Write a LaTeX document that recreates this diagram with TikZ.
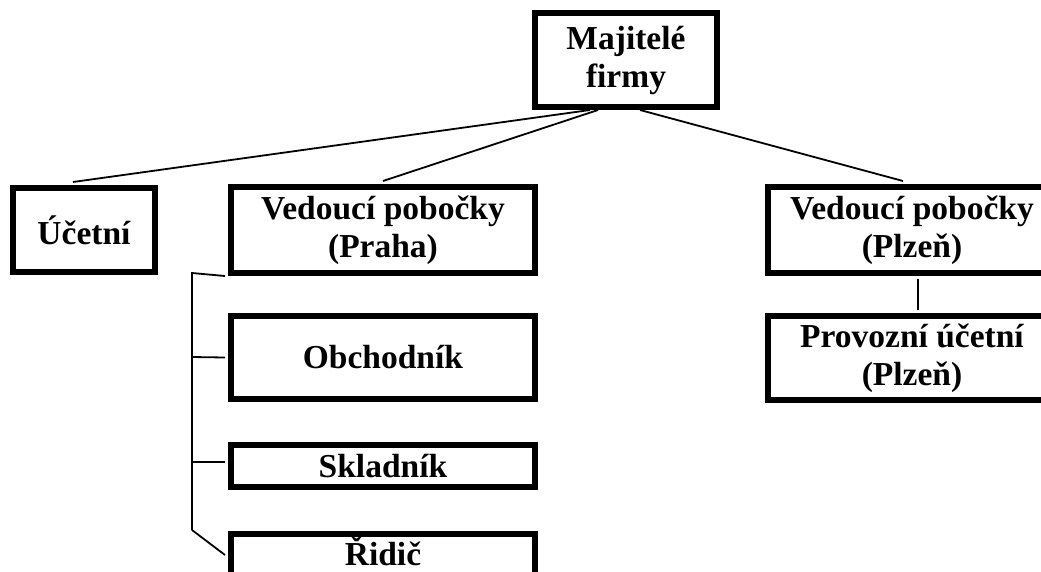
\documentclass[tikz,border=0pt]{standalone}
\usepackage{fontspec}
\setmainfont{Liberation Serif}
\begin{document}
\begin{tikzpicture}[x=1pt,y=1pt,
  box/.style={draw=black,line width=6pt,fill=white,rectangle,inner sep=0pt,align=center,
    font=\fontsize{33.5}{38}\selectfont\bfseries},
  conn/.style={draw=black,line width=1.8pt}]
\clip (0,0) rectangle (1041,-571);
\fill[white] (0,0) rectangle (1041,-571);
% boxes
\node[box,minimum width=182pt,minimum height=94pt] (maj) at (626,-60) {Majitelé\\firmy};
\node[box,minimum width=142pt,minimum height=84pt] (uc) at (84,-230) {Účetní};
\node[box,minimum width=304pt,minimum height=86pt] (praha) at (383,-230) {Vedoucí pobočky\\(Praha)};
\node[box,minimum width=289pt,minimum height=86pt] (plzen) at (912,-230) {Vedoucí pobočky\\(Plzeň)};
\node[box,minimum width=289pt,minimum height=84pt] (prov) at (912,-358) {Provozní účetní\\(Plzeň)};
\node[box,minimum width=304pt,minimum height=83pt] (obch) at (383,-357.5) {Obchodník};
\node[box,minimum width=304pt,minimum height=42pt] (skl) at (383,-466) {Skladník};
\node[box,minimum width=304pt,minimum height=84pt,anchor=north] (rid) at (383,-531) {};
\node[font=\fontsize{33.5}{38}\selectfont\bfseries,anchor=base,inner sep=0pt] (ridt) at (383,-565) {Řidič};
% connectors
\draw[conn] ([xshift=-36pt]maj.south) -- ([xshift=-11pt,yshift=3pt]uc.north);
\draw[conn] ([xshift=-28pt]maj.south) -- ([yshift=3pt]praha.north);
\draw[conn] ([xshift=14pt]maj.south) -- ([xshift=-9pt,yshift=3pt]plzen.north);
\draw[conn] ([xshift=6pt,yshift=-3pt]plzen.south) -- ([xshift=6pt,yshift=3pt]prov.north);
\coordinate (bus) at (192,-530);
\draw[conn] ([xshift=-3pt]praha.south west) -- (192,-273) -- (bus);
\draw[conn] (bus) -- ([xshift=-3pt,yshift=21pt]rid.west);
\draw[conn] (192,-357) -- ([xshift=-3pt]obch.west);
\draw[conn] (192,-462) -- ([xshift=-3pt,yshift=4pt]skl.west);
\end{tikzpicture}
\end{document}
